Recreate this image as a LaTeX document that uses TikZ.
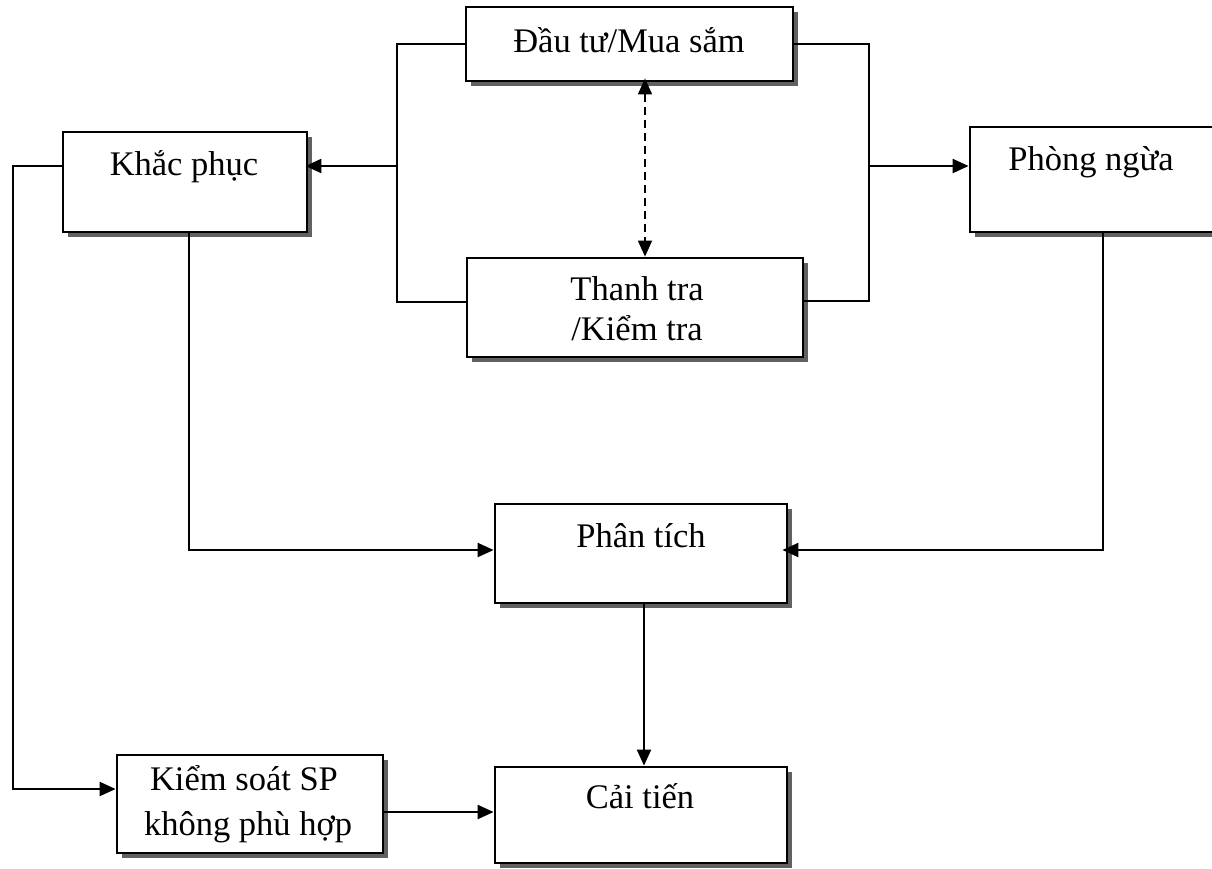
\documentclass[tikz,border=0pt]{standalone}
\usepackage{fontspec}
\setmainfont{Liberation Serif}
\usetikzlibrary{arrows.meta,shadows,calc}

\tikzset{
  box/.style={draw=black, line width=2.8pt, fill=white, inner sep=0pt,
    drop shadow={shadow xshift=5pt, shadow yshift=-5pt, fill=black!62, opacity=1}},
  lbl/.style={anchor=base, inner sep=0pt, font=\fontsize{34.5}{40}\selectfont},
  conn/.style={line width=2.2pt, line join=miter},
  arr/.style={conn, -{Triangle[length=16pt,width=14pt]}},
  darr/.style={line width=1.7pt, dash pattern=on 8pt off 5pt,
    {Triangle[length=16pt,width=14pt]}-{Triangle[length=16pt,width=14pt]}},
}

\begin{document}
\begin{tikzpicture}[x=1pt, y=-1pt]
\path[use as bounding box, clip] (0,0) rectangle (1212,868);

% boxes
\node[box, minimum width=327pt, minimum height=74pt]  (dau)   at (629.5,44)   {};
\node[box, minimum width=336pt, minimum height=99pt]  (thanh) at (635,307.5)  {};
\node[box, minimum width=244pt, minimum height=100pt] (khac)  at (185,182)    {};
\node[box, minimum width=266pt, minimum height=105pt] (phong) at (1103,179.5) {};
\node[box, minimum width=292pt, minimum height=99pt]  (phan)  at (641,553.5)  {};
\node[box, minimum width=292pt, minimum height=96pt]  (cai)   at (641,815)    {};
\node[box, minimum width=266pt, minimum height=98pt]  (kiem)  at (250,804)    {};

% box texts
\node[lbl] (dauT)    at (629,52)  {Đầu tư/Mua sắm};
\node[lbl] (thanhT1) at (637,300) {Thanh tra};
\node[lbl] (thanhT2) at (637,340) {/Kiểm tra};
\node[lbl] (khacT)   at (184,175) {Khắc phục};
\node[lbl] (phongT)  at (1091,170) {Phòng ngừa};
\node[lbl] (phanT)   at (641,547) {Phân tích};
\node[lbl] (caiT)    at (640,808) {Cải tiến};
\node[lbl] (kiemT1)  at (244,790) {Kiểm soát SP};
\node[lbl] (kiemT2)  at (248,835) {không phù hợp};

% branching points
\coordinate (lb) at (397,166);
\coordinate (rb) at (869,166);
\coordinate (lc) at (13,166);

% connectors
\draw[conn] (dau.west) -| (lb) |- (thanh.west |- 0,302);
\draw[conn] (dau.east) -| (rb) |- (thanh.east |- 0,301);
\draw[arr, shorten >=-3pt] (lb) -- (khac.east |- lb);
\draw[arr] (rb) -- (phong.west |- rb);
\draw[darr, shorten <=-4pt] (dau.south -| 645,0) -- (thanh.north -| 645,0);
\draw[arr] ($(khac.south)+(4,0)$) |- (phan.west |- 0,550);
\draw[arr, shorten >=-6pt] (phong.south) |- (phan.east |- 0,550);
\draw[arr] (phan.south -| 644,0) -- (cai.north -| 644,0);
\draw[arr] (khac.west |- lc) -- (lc) |- (kiem.west |- 0,789);
\draw[arr] (kiem.east |- 0,812) -- (cai.west |- 0,812);
\end{tikzpicture}
\end{document}
